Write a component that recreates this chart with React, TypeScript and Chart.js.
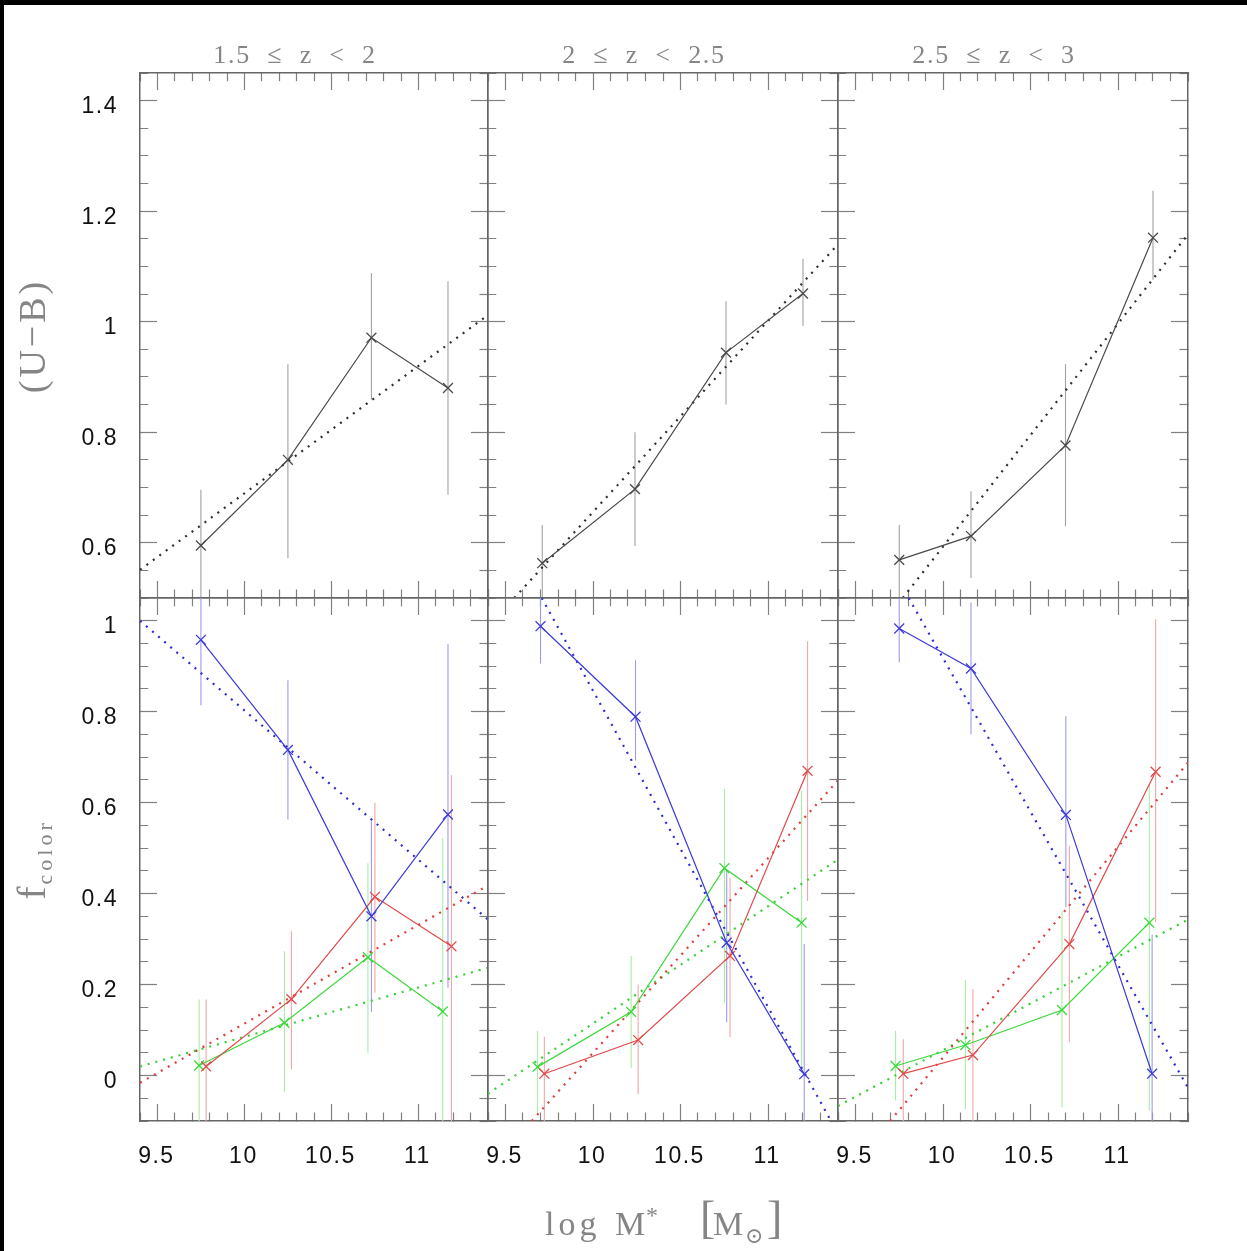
import React, { useEffect, useRef } from "react";
import { Chart, registerables } from "chart.js";

Chart.register(...registerables);

// ---------- page / panel geometry ----------
const PAGE_W = 1247;
const PAGE_H = 1251;
const COL_LEFT = [140, 488, 838];
const COL_RIGHT = [488, 838, 1188];
const ROW_TOP = [73, 598];
const ROW_BOTTOM = [598, 1121];

// ---------- axes ----------
const X_MIN = 9.4;
const X_MAX = 11.4;
const X_MINOR_STEP = 0.1;
const X_TICK_LABELS = [9.5, 10, 10.5, 11];

const UB_MIN = 0.5;
const UB_MAX = 1.45;
const UB_TICK_LABELS = [0.6, 0.8, 1, 1.2, 1.4];

const F_MIN = -0.1;
const F_MAX = 1.05;
const F_TICK_LABELS = [0, 0.2, 0.4, 0.6, 0.8, 1];

const Y_MINOR_STEP = 0.05;

// ---------- text ----------
const PANEL_TITLES = ["1.5  ≤  z  <  2", "2  ≤  z  <  2.5", "2.5  ≤  z  <  3"];
const Y_TITLE_TOP = "(U−B)";
const Y_TITLE_BOTTOM = "f";
const Y_TITLE_BOTTOM_SUB = "color";
const X_TITLE_PARTS = ["log", "M", "*", "[", "M", "⊙", "]"];

// ---------- (U-B) panels ----------
const UB_X_1 = [9.75, 10.25, 10.73, 11.17];
const UB_Y_1 = [0.595, 0.75, 0.971, 0.88];
const UB_LO_1 = [0.4, 0.572, 0.859, 0.687];
const UB_HI_1 = [0.696, 0.923, 1.088, 1.073];
const UB_FIT_X_1 = [9.4, 11.4];
const UB_FIT_Y_1 = [0.551, 1.012];

const UB_X_2 = [9.71, 10.24, 10.76, 11.2];
const UB_Y_2 = [0.563, 0.697, 0.944, 1.051];
const UB_LO_2 = [0.45, 0.594, 0.85, 0.992];
const UB_HI_2 = [0.632, 0.8, 1.037, 1.114];
const UB_FIT_X_2 = [9.55, 11.4];
const UB_FIT_Y_2 = [0.5, 1.14];

const UB_X_3 = [9.75, 10.16, 10.7, 11.2];
const UB_Y_3 = [0.569, 0.612, 0.776, 1.152];
const UB_LO_3 = [0.45, 0.536, 0.63, 1.076];
const UB_HI_3 = [0.632, 0.693, 0.923, 1.237];
const UB_FIT_X_3 = [9.77, 11.4];
const UB_FIT_Y_3 = [0.5, 1.158];

// ---------- f_color panels: blue ----------
const BLUE_X_1 = [9.75, 10.25, 10.73, 11.17];
const BLUE_Y_1 = [0.958, 0.716, 0.35, 0.574];
const BLUE_LO_1 = [0.814, 0.563, 0.14, 0.193];
const BLUE_HI_1 = [1.1, 0.869, 0.559, 0.949];
const BLUE_FIT_X_1 = [9.4, 11.4];
const BLUE_FIT_Y_1 = [1.0, 0.343];

const BLUE_X_2 = [9.7, 10.243, 10.764, 11.207];
const BLUE_Y_2 = [0.988, 0.789, 0.292, 0.003];
const BLUE_LO_2 = [0.906, 0.692, 0.117, -0.15];
const BLUE_HI_2 = [1.1, 0.913, 0.45, 0.289];
const BLUE_FIT_X_2 = [9.707, 11.36];
const BLUE_FIT_Y_2 = [1.05, -0.1];

const BLUE_X_3 = [9.75, 10.16, 10.702, 11.195];
const BLUE_Y_3 = [0.983, 0.895, 0.573, 0.004];
const BLUE_LO_3 = [0.908, 0.75, 0.37, -0.15];
const BLUE_HI_3 = [1.1, 1.04, 0.79, 0.31];
const BLUE_FIT_X_3 = [9.804, 11.4];
const BLUE_FIT_Y_3 = [1.05, -0.027];

// ---------- f_color panels: red ----------
const RED_X_1 = [9.78, 10.27, 10.75, 11.19];
const RED_Y_1 = [0.02, 0.168, 0.393, 0.284];
const RED_LO_1 = [-0.15, 0.013, 0.182, -0.15];
const RED_HI_1 = [0.167, 0.317, 0.6, 0.66];
const RED_FIT_X_1 = [9.4, 11.4];
const RED_FIT_Y_1 = [-0.016, 0.418];

const RED_X_2 = [9.722, 10.258, 10.783, 11.226];
const RED_Y_2 = [0.004, 0.078, 0.263, 0.67];
const RED_LO_2 = [-0.15, -0.041, 0.084, 0.384];
const RED_HI_2 = [0.085, 0.2, 0.435, 0.955];
const RED_FIT_X_2 = [9.65, 11.4];
const RED_FIT_Y_2 = [-0.1, 0.649];

const RED_X_3 = [9.773, 10.171, 10.722, 11.215];
const RED_Y_3 = [0.004, 0.045, 0.289, 0.668];
const RED_LO_3 = [-0.15, -0.15, 0.073, 0.337];
const RED_HI_3 = [0.08, 0.19, 0.505, 1.003];
const RED_FIT_X_3 = [9.698, 11.4];
const RED_FIT_Y_3 = [-0.1, 0.688];

// ---------- f_color panels: green ----------
const GREEN_X_1 = [9.74, 10.23, 10.71, 11.14];
const GREEN_Y_1 = [0.022, 0.116, 0.26, 0.141];
const GREEN_LO_1 = [-0.15, -0.037, 0.05, -0.15];
const GREEN_HI_1 = [0.167, 0.273, 0.467, 0.522];
const GREEN_FIT_X_1 = [9.4, 11.4];
const GREEN_FIT_Y_1 = [0.02, 0.237];

const GREEN_X_2 = [9.683, 10.218, 10.751, 11.192];
const GREEN_Y_2 = [0.019, 0.14, 0.456, 0.336];
const GREEN_LO_2 = [-0.085, 0.016, 0.16, 0.017];
const GREEN_HI_2 = [0.098, 0.263, 0.63, 0.626];
const GREEN_FIT_X_2 = [9.4, 11.4];
const GREEN_FIT_Y_2 = [-0.04, 0.475];

const GREEN_X_3 = [9.729, 10.128, 10.68, 11.179];
const GREEN_Y_3 = [0.021, 0.067, 0.144, 0.336];
const GREEN_LO_3 = [-0.055, -0.074, -0.07, -0.077];
const GREEN_HI_3 = [0.098, 0.21, 0.362, 0.64];
const GREEN_FIT_X_3 = [9.4, 11.4];
const GREEN_FIT_Y_3 = [-0.067, 0.343];

// ---------- styles ----------
const FRAME_COLOR = "#666666";
const TICK_COLOR = "#808080";
const LABEL_GRAY = "#858585";
const FRAME_W = 1.5;
const MAJOR_LEN = 17;
const MINOR_LEN = 9;
const TICK_LETTER_SPACING = 1.5;
const SANS = "'Liberation Sans', Arial, Helvetica, sans-serif";
const SERIF = "'Liberation Serif', 'DejaVu Serif', 'Times New Roman', serif";

const BLACK = { line: "#4a4a4a", err: "#a2a2a2", dot: "#2e2e2e" };
const BLUE = { line: "#3c3cd8", err: "#9c9cec", dot: "#2c2cd0" };
const RED = { line: "#e04a4a", err: "#f2a6a6", dot: "#e03c3c" };
const GREEN = { line: "#3cd83c", err: "#a6eea6", dot: "#36d036" };

type Colors = { line: string; err: string; dot: string };
type Series = {
  x: number[];
  y: number[];
  lo: number[];
  hi: number[];
  fitX: number[];
  fitY: number[];
  colors: Colors;
};

const mk = (
  x: number[], y: number[], lo: number[], hi: number[],
  fitX: number[], fitY: number[], colors: Colors
): Series => ({ x, y, lo, hi, fitX, fitY, colors });

type Panel = { col: number; row: number; series: Series[] };

const PANELS: Panel[] = [
  { col: 0, row: 0, series: [mk(UB_X_1, UB_Y_1, UB_LO_1, UB_HI_1, UB_FIT_X_1, UB_FIT_Y_1, BLACK)] },
  { col: 1, row: 0, series: [mk(UB_X_2, UB_Y_2, UB_LO_2, UB_HI_2, UB_FIT_X_2, UB_FIT_Y_2, BLACK)] },
  { col: 2, row: 0, series: [mk(UB_X_3, UB_Y_3, UB_LO_3, UB_HI_3, UB_FIT_X_3, UB_FIT_Y_3, BLACK)] },
  {
    col: 0, row: 1, series: [
      mk(BLUE_X_1, BLUE_Y_1, BLUE_LO_1, BLUE_HI_1, BLUE_FIT_X_1, BLUE_FIT_Y_1, BLUE),
      mk(RED_X_1, RED_Y_1, RED_LO_1, RED_HI_1, RED_FIT_X_1, RED_FIT_Y_1, RED),
      mk(GREEN_X_1, GREEN_Y_1, GREEN_LO_1, GREEN_HI_1, GREEN_FIT_X_1, GREEN_FIT_Y_1, GREEN),
    ],
  },
  {
    col: 1, row: 1, series: [
      mk(BLUE_X_2, BLUE_Y_2, BLUE_LO_2, BLUE_HI_2, BLUE_FIT_X_2, BLUE_FIT_Y_2, BLUE),
      mk(RED_X_2, RED_Y_2, RED_LO_2, RED_HI_2, RED_FIT_X_2, RED_FIT_Y_2, RED),
      mk(GREEN_X_2, GREEN_Y_2, GREEN_LO_2, GREEN_HI_2, GREEN_FIT_X_2, GREEN_FIT_Y_2, GREEN),
    ],
  },
  {
    col: 2, row: 1, series: [
      mk(BLUE_X_3, BLUE_Y_3, BLUE_LO_3, BLUE_HI_3, BLUE_FIT_X_3, BLUE_FIT_Y_3, BLUE),
      mk(RED_X_3, RED_Y_3, RED_LO_3, RED_HI_3, RED_FIT_X_3, RED_FIT_Y_3, RED),
      mk(GREEN_X_3, GREEN_Y_3, GREEN_LO_3, GREEN_HI_3, GREEN_FIT_X_3, GREEN_FIT_Y_3, GREEN),
    ],
  },
];

// ---------- helpers ----------
const isMajor = (v: number, majors: number[]) => majors.some((m) => Math.abs(m - v) < 1e-6);

function tickList(min: number, max: number, step: number) {
  const n = Math.round((max - min) / step);
  const out: { value: number }[] = [];
  for (let i = 0; i <= n; i++) out.push({ value: Math.round((min + i * step) * 1000) / 1000 });
  return out;
}

const AXIS_SIZE: Record<string, number> = { left: 80, bottom: 70, top: 10, right: 10 };

function makeAxis(position: string, min: number, max: number, step: number, majors: number[], showLabels: boolean) {
  const horizontal = position === "top" || position === "bottom";
  const size = AXIS_SIZE[position];
  const full = MAJOR_LEN + FRAME_W / 2;
  const minorDash =
    position === "bottom" || position === "right"
      ? [MINOR_LEN, 300]
      : [0, full - MINOR_LEN, MINOR_LEN, 300];
  return {
    type: "linear",
    display: true,
    position,
    min,
    max,
    afterBuildTicks: (scale: any) => {
      scale.ticks = tickList(min, max, step);
      scale.min = min;
      scale.max = max;
    },
    afterFit: (scale: any) => {
      if (horizontal) scale.height = size;
      else scale.width = size;
    },
    border: { display: true, color: FRAME_COLOR, width: FRAME_W },
    grid: {
      display: true,
      drawOnChartArea: false,
      drawTicks: true,
      tickLength: -MAJOR_LEN,
      tickColor: TICK_COLOR,
      tickWidth: 1.2,
      tickBorderDash: (c: any) => (c && c.tick && isMajor(c.tick.value, majors) ? [] : minorDash),
    },
    ticks: {
      display: showLabels,
      autoSkip: false,
      maxRotation: 0,
      minRotation: 0,
      padding: horizontal ? 39 : 39,
      labelOffset: horizontal ? -1 : 6,
      color: "#111111",
      font: { family: SANS, size: 23 },
      callback: (v: any) => (isMajor(Number(v), majors) ? String(v) : ""),
    },
  };
}

function seriesDatasets(s: Series) {
  const err: { x: number; y: number | null }[] = [];
  s.x.forEach((xv, i) => {
    err.push({ x: xv, y: s.lo[i] }, { x: xv, y: s.hi[i] }, { x: xv, y: null });
  });
  return [
    {
      data: s.x.map((xv, i) => ({ x: xv, y: s.y[i] })),
      borderColor: s.colors.line,
      borderWidth: 1.2,
      pointStyle: "crossRot",
      pointRadius: 7,
      pointBorderWidth: 1.3,
      pointBorderColor: s.colors.line,
      pointBackgroundColor: s.colors.line,
      fill: false,
      order: 0,
    },
    {
      data: s.fitX.map((xv, i) => ({ x: xv, y: s.fitY[i] })),
      borderColor: s.colors.dot,
      borderWidth: 2.2,
      borderDash: [2, 6],
      pointRadius: 0,
      fill: false,
      order: 1,
    },
    {
      data: err,
      borderColor: s.colors.err,
      borderWidth: 1.1,
      pointRadius: 0,
      spanGaps: false,
      fill: false,
      order: 2,
    },
  ];
}

function spaced(ctx: any, text: string, x: number, y: number, font: string, spacing: number, align: string) {
  ctx.save();
  ctx.font = font;
  ctx.letterSpacing = spacing + "px";
  ctx.textAlign = align;
  ctx.textBaseline = "alphabetic";
  ctx.fillText(text, x, y);
  ctx.restore();
}

function textPlugin(col: number, row: number) {
  return {
    id: "panelText",
    beforeDraw(chart: any) {
      chart.ctx.letterSpacing = TICK_LETTER_SPACING + "px";
    },
    afterDraw(chart: any) {
      const ctx = chart.ctx;
      const a = chart.chartArea;
      ctx.save();
      ctx.letterSpacing = "0px";
      ctx.fillStyle = LABEL_GRAY;
      if (row === 0) {
        spaced(ctx, PANEL_TITLES[col], a.left + (a.right - a.left) / 2 - 19, a.top - 10, `26px ${SERIF}`, 1.7, "center");
      }
      if (col === 0 && row === 0) {
        ctx.save();
        ctx.translate(45, (a.top + a.bottom) / 2 + 2);
        ctx.rotate(-Math.PI / 2);
        spaced(ctx, Y_TITLE_TOP, 1.5, 0, `38px ${SERIF}`, 3, "center");
        ctx.restore();
      }
      if (col === 0 && row === 1) {
        ctx.save();
        ctx.font = `40px ${SERIF}`;
        const wf = ctx.measureText(Y_TITLE_BOTTOM).width;
        ctx.font = `22px ${SERIF}`;
        ctx.letterSpacing = "4px";
        const wc = ctx.measureText(Y_TITLE_BOTTOM_SUB).width;
        ctx.letterSpacing = "0px";
        const total = wf + 2 + wc;
        ctx.translate(45, (a.top + a.bottom) / 2 + total / 2);
        ctx.rotate(-Math.PI / 2);
        spaced(ctx, Y_TITLE_BOTTOM, 0, 0, `40px ${SERIF}`, 0, "left");
        spaced(ctx, Y_TITLE_BOTTOM_SUB, wf + 2, 7, `22px ${SERIF}`, 4, "left");
        ctx.restore();
      }
      if (col === 1 && row === 1) {
        const cx = (a.left + a.right) / 2;
        const by = a.bottom + 114;
        const [pLog, pM, pStar, pOpen, pM2, pSun, pClose] = X_TITLE_PARTS;
        spaced(ctx, pLog, cx - 118, by, `34px ${SERIF}`, 4, "left");
        spaced(ctx, pM, cx - 48, by, `34px ${SERIF}`, 0, "left");
        spaced(ctx, pStar, cx - 17, by - 12, `24px ${SERIF}`, 0, "left");
        spaced(ctx, pOpen, cx + 37, by - 2, `46px ${SERIF}`, 0, "left");
        spaced(ctx, pM2, cx + 50, by, `34px ${SERIF}`, 0, "left");
        spaced(ctx, pSun, cx + 82, by + 8, `22px ${SERIF}`, 0, "left");
        spaced(ctx, pClose, cx + 104, by - 2, `46px ${SERIF}`, 0, "left");
      }
      ctx.restore();
    },
  };
}

function buildConfig(p: Panel): any {
  const L = COL_LEFT[p.col];
  const R = COL_RIGHT[p.col];
  const T = ROW_TOP[p.row];
  const B = ROW_BOTTOM[p.row];
  const yMin = p.row === 0 ? UB_MIN : F_MIN;
  const yMax = p.row === 0 ? UB_MAX : F_MAX;
  const yMajors = p.row === 0 ? UB_TICK_LABELS : F_TICK_LABELS;
  const datasets = p.series.flatMap((s) => seriesDatasets(s));
  return {
    type: "line",
    data: { datasets },
    options: {
      animation: false,
      responsive: false,
      devicePixelRatio: 1,
      events: [],
      layout: {
        padding: {
          left: L - AXIS_SIZE.left,
          right: PAGE_W - R - AXIS_SIZE.right,
          top: T - AXIS_SIZE.top,
          bottom: PAGE_H - B - AXIS_SIZE.bottom,
        },
      },
      plugins: {
        legend: { display: false },
        tooltip: { enabled: false },
        title: { display: false },
      },
      scales: {
        x: makeAxis("bottom", X_MIN, X_MAX, X_MINOR_STEP, X_TICK_LABELS, p.row === 1),
        x2: makeAxis("top", X_MIN, X_MAX, X_MINOR_STEP, X_TICK_LABELS, false),
        y: makeAxis("left", yMin, yMax, Y_MINOR_STEP, yMajors, p.col === 0),
        y2: makeAxis("right", yMin, yMax, Y_MINOR_STEP, yMajors, false),
      },
    },
    plugins: [textPlugin(p.col, p.row)],
  };
}

export default function App() {
  const refs = useRef<(HTMLCanvasElement | null)[]>([]);

  useEffect(() => {
    const charts: Chart[] = [];
    PANELS.forEach((p, i) => {
      const cv = refs.current[i];
      if (!cv) return;
      charts.push(new Chart(cv, buildConfig(p)));
    });
    return () => {
      charts.forEach((c) => c.destroy());
    };
  }, []);

  return (
    <div
      style={{
        position: "absolute",
        left: 0,
        top: 0,
        width: PAGE_W,
        height: PAGE_H,
        background: "#000",
        overflow: "hidden",
      }}
    >
      <div style={{ position: "absolute", left: 4, top: 5, right: 0, bottom: 0, background: "#fff" }} />
      {PANELS.map((p, i) => (
        <canvas
          key={i}
          ref={(el) => {
            refs.current[i] = el;
          }}
          width={PAGE_W}
          height={PAGE_H}
          style={{ position: "absolute", left: 0, top: 0, width: PAGE_W, height: PAGE_H }}
        />
      ))}
    </div>
  );
}
